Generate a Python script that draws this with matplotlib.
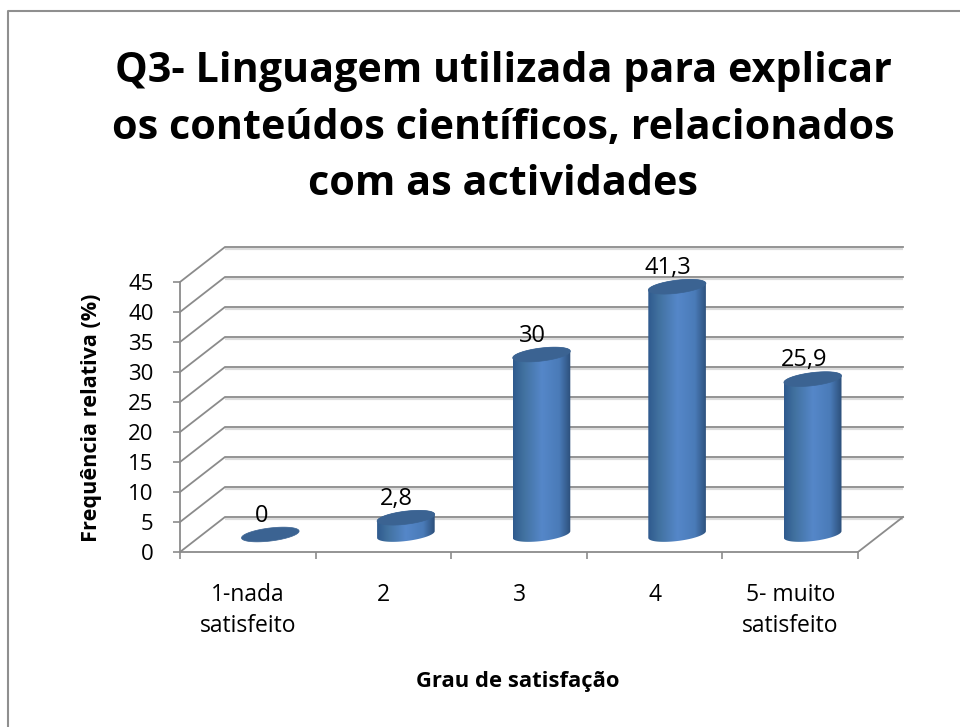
import numpy as np
import matplotlib
matplotlib.use("Agg")
import matplotlib.pyplot as plt
from matplotlib.patches import Polygon
from matplotlib.lines import Line2D
from matplotlib.colors import LinearSegmentedColormap
from matplotlib.ticker import FixedLocator, FixedFormatter

categories = ["1-nada\nsatisfeito", "2", "3", "4", "5- muito\nsatisfeito"]
values = [0, 2.8, 30, 41.3, 25.9]
value_labels = ["0", "2,8", "30", "41,3", "25,9"]
title = "Q3- Linguagem utilizada para explicar\nos conteúdos científicos, relacionados\ncom as actividades"
ylabel = "Frequência relativa (%)"
xlabel = "Grau de satisfação"

W, H = 960, 727
plt.rcParams["font.family"] = ["Open Sans", "DejaVu Sans"]
fig = plt.figure(figsize=(W / 100, H / 100), dpi=100)
fig.patch.set_facecolor("white")
fig.add_artist(Line2D([7.5 / W, 7.5 / W, 1], [0, 1 - 11 / H, 1 - 11 / H], color="#8f8f8f", lw=1.5,
                      transform=fig.transFigure))

# axes geometry in pixels
L, R, B, T = 180, 907, 552, 240
ax = fig.add_axes([L / W, 1 - B / H, (R - L) / W, (B - T) / H])
ax.patch.set_alpha(0)
ppx = (858 - 180) / 5      # px per category
ppy = 6.0                  # px per percent
dx = 45 / ppx
dy = 35 / ppy
GRID = "#8b8b8b"
SHADOW = "#dcdcdc"

ymax = 45
for v in range(0, ymax + 1, 5):
    ax.plot([dx, 5 + dx], [v + dy - 0.35, v + dy - 0.35], color=SHADOW, lw=1.6, zorder=1, solid_capstyle="butt")
    ax.plot([0, dx, 5 + dx], [v, v + dy, v + dy], color=GRID, lw=1.3, zorder=2, solid_joinstyle="miter")
ax.plot([5, 5 + dx], [0, dy], color=GRID, lw=1.3, zorder=2)

for s in ("top", "right"):
    ax.spines[s].set_visible(False)
ax.spines["left"].set_bounds(0, ymax)
ax.spines["bottom"].set_bounds(0, 5)
for s in ("left", "bottom"):
    ax.spines[s].set_color(GRID)
    ax.spines[s].set_linewidth(1.3)
ax.set_yticks(range(0, ymax + 1, 5))
ax.tick_params(axis="y", length=5, width=1.2, color=GRID, labelsize=16, pad=14, labelcolor="black")
ax.xaxis.set_major_locator(FixedLocator(range(6)))
ax.xaxis.set_major_formatter(FixedFormatter([""] * 6))
ax.xaxis.set_minor_locator(FixedLocator(np.arange(5) + 0.5))
ax.xaxis.set_minor_formatter(FixedFormatter(categories))
ax.tick_params(axis="x", which="major", length=5, width=1.2, color=GRID)
ax.tick_params(axis="x", which="minor", length=0, labelsize=16.5, pad=22, labelcolor="black")
for lab in ax.get_xticklabels(minor=True):
    lab.set_linespacing(1.42)

ax.set_ylabel(ylabel, fontsize=15.6, fontweight="bold")
ax.yaxis.set_label_coords((92 - L) / (R - L), (B - 418) / (B - T))
ax.yaxis.label.set_verticalalignment("center")
ax.set_xlabel(xlabel, fontsize=15.8, fontweight="bold")
ax.xaxis.set_label_coords((518 - L) / (R - L), (B - 681) / (B - T))
ax.xaxis.label.set_verticalalignment("center")

fig.text(503 / W, 1 - 128 / H, title, ha="center", va="center", fontsize=29.7, fontweight="bold",
         linespacing=1.5, color="black")

# cylinders
a, b, th = 29.0, 6.5, np.radians(7)
def ell(t):
    return (a * np.cos(t) * np.cos(th) - b * np.sin(t) * np.sin(th),
            a * np.cos(t) * np.sin(th) + b * np.sin(t) * np.cos(th))
t0 = np.arctan2(-b * np.sin(th), a * np.cos(th))  # right-most point parameter
t = np.linspace(t0, t0 + 2 * np.pi, 181)
ex, ey = ell(t)
ux, uy = ell(t[:91])   # right to left over the top
lx, ly = ell(t[90:])   # left to right under the bottom

cmap = LinearSegmentedColormap.from_list("cyl", [(0, "#2f5a8e"), (0.18, "#41719f"), (0.5, "#5587c9"),
                                                 (0.8, "#4a7bb8"), (1, "#2c4f7a")])
grad = np.linspace(0, 1, 128).reshape(1, -1)
for i, (val, lab) in enumerate(zip(values, value_labels)):
    cx = i + 0.5 + dx / 2
    cy = dy / 2
    top = cy + val
    if val > 0:
        px = np.r_[cx + lx / ppx, cx + ux / ppx]
        py = np.r_[cy + ly / ppy, top + uy / ppy]
        poly = Polygon(np.c_[px, py], closed=True, transform=ax.transData, fc="none", ec="none")
        ax.add_patch(poly)
        im = ax.imshow(grad, extent=[cx - a / ppx, cx + a / ppx, cy - 10 / ppy, top + 10 / ppy],
                       cmap=cmap, aspect="auto", zorder=3, interpolation="bilinear")
        im.set_clip_path(poly)
    ax.add_patch(Polygon(np.c_[cx + ex / ppx, top + ey / ppy], closed=True, fc="#3b6392", ec="#3b6392",
                         lw=0.5, zorder=4))
    ax.annotate(lab, (cx, top), xytext=(-6.5, 13.5), textcoords="offset points", ha="center", va="center",
                fontsize=17, color="black", zorder=5)

ax.set_xlim(0, (R - L) / ppx)
ax.set_ylim(0, (B - T) / ppy)
fig.savefig("out.png", dpi=100)
